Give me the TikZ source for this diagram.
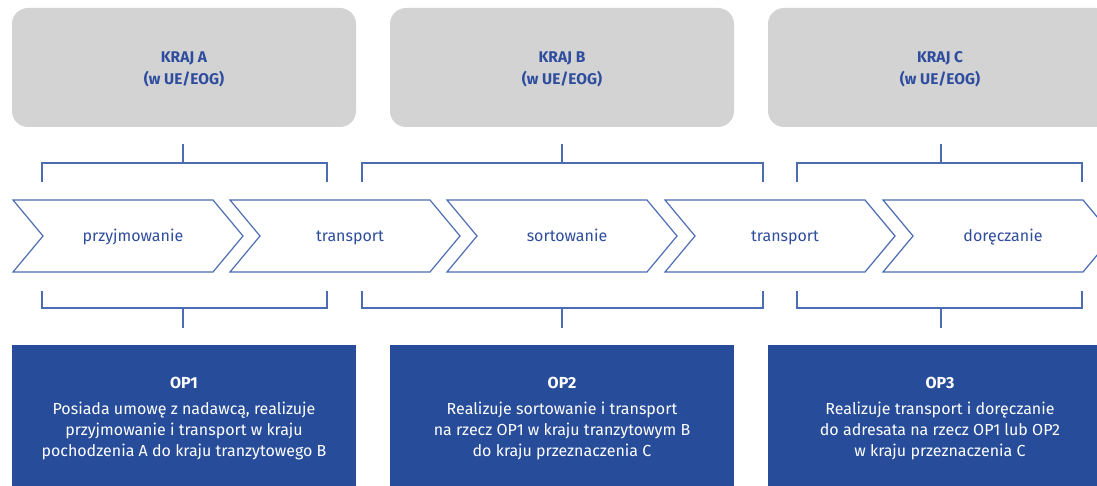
\documentclass[tikz,border=0pt]{standalone}
\usepackage{fontspec}
\setmainfont{Fira Sans}
\definecolor{grayfill}{HTML}{D3D3D3}
\definecolor{navy}{HTML}{274C9A}
\definecolor{txtblue}{HTML}{2E4D9E}
\definecolor{lineblue}{HTML}{4C6CB2}
\begin{document}
\begin{tikzpicture}[x=1pt,y=-1pt,
  country/.style={fill=grayfill, rounded corners=16pt, minimum width=344pt, minimum height=119pt, inner sep=0pt},
  ctext/.style={text=txtblue, font=\fontsize{15.5}{22}\selectfont\bfseries, anchor=base, inner sep=0pt},
  opbox/.style={fill=navy, minimum width=344pt, minimum height=160pt, inner sep=0pt, anchor=north},
  optext/.style={text=white, font=\fontsize{16}{21}\selectfont, anchor=base, inner sep=0pt},
  optitle/.style={text=white, font=\fontsize{16}{21}\selectfont\bfseries, anchor=base, inner sep=0pt},
  chev/.style={draw=lineblue, line width=1.2pt, fill=white},
  chevlabel/.style={text=txtblue, font=\fontsize{16}{18}\selectfont, anchor=base, inner sep=0pt},
  brk/.style={draw=lineblue, line width=1.2pt}
]
\useasboundingbox (0,0) rectangle (1097,486);
% country boxes
\node[country] (ka) at (184,67.5) {};
\node[country] (kb) at (562,67.5) {};
\node[country] (kc) at (940,67.5) {};
\foreach \x/\c/\n in {184/A/a, 562/B/b, 940/C/c}{
  \node[ctext] (kl\n) at (\x,62.5) {KRAJ \c};
  \node[ctext] (ks\n) at (\x,84.5) {(w UE/EOG)};
}
% top brackets
\foreach \a/\b/\m in {42/327/183, 362/763/562, 797/1082/941}{
  \draw[brk] (\a,182) -- (\a,163) -- (\b,163) -- (\b,182);
  \draw[brk] (\m,144) -- (\m,163);
}
% chevrons
\foreach \L/\t/\n in {13/przyjmowanie/c1, 230/transport/c2, 447/sortowanie/c3, 665/transport/c4, 883/doręczanie/c5}{
  \draw[chev] (\L,200) -- ++(200,0) -- ++(30,36) -- ++(-30,36) -- ++(-200,0) -- ++(30,-36) -- cycle;
  \node[chevlabel] (\n) at (\L+120,242) {\t};
}
% bottom brackets
\foreach \a/\b/\m in {42/327/183, 362/763/562, 797/1082/941}{
  \draw[brk] (\a,291) -- (\a,308) -- (\b,308) -- (\b,291);
  \draw[brk] (\m,308) -- (\m,328);
}
% operator boxes
\node[opbox] (o1) at (184,345) {};
\node[opbox] (o2) at (562,345) {};
\node[opbox] (o3) at (940,345) {};
\node[optitle] (t1) at (184,388) {OP1};
\node[optext] (t1a) at (184,414) {Posiada umowę z nadawcą, realizuje};
\node[optext] (t1b) at (184,435) {przyjmowanie i transport w kraju};
\node[optext] (t1c) at (184,456) {pochodzenia A do kraju tranzytowego B};
\node[optitle] (t2) at (562,388) {OP2};
\node[optext] (t2a) at (562,414) {Realizuje sortowanie i transport};
\node[optext] (t2b) at (562,435) {na rzecz OP1 w kraju tranzytowym B};
\node[optext] (t2c) at (562,456) {do kraju przeznaczenia C};
\node[optitle] (t3) at (940,388) {OP3};
\node[optext] (t3a) at (940,414) {Realizuje transport i doręczanie};
\node[optext] (t3b) at (940,435) {do adresata na rzecz OP1 lub OP2};
\node[optext] (t3c) at (940,456) {w kraju przeznaczenia C};
\end{tikzpicture}
\end{document}
